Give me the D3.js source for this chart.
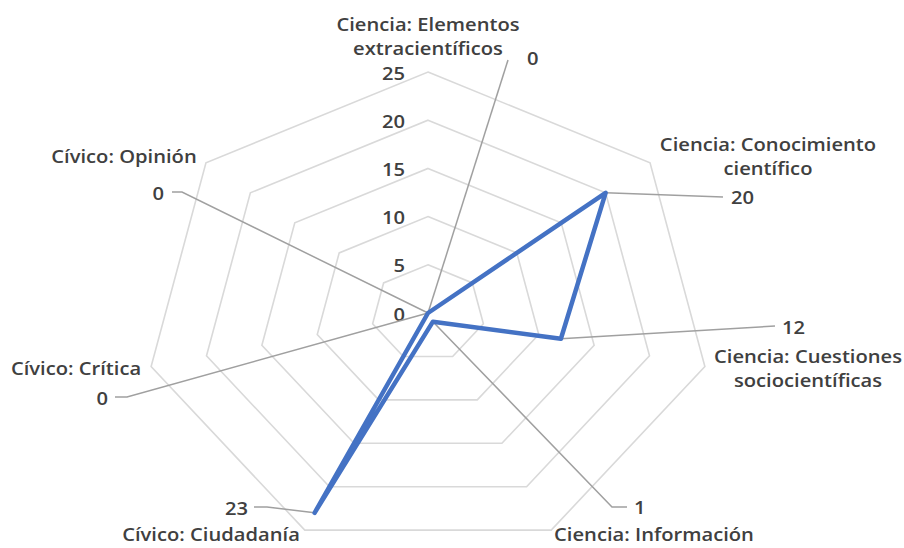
<!DOCTYPE html>
<html><head><meta charset="utf-8">
<script src="https://cdn.jsdelivr.net/npm/d3@7"></script>
<style>
html,body{margin:0;padding:0;background:#fff;}
svg{display:block;}
text{font-family:"Open Sans",sans-serif;font-weight:600;fill:#404040;}
</style></head>
<body>
<svg id="chart" width="904" height="548"></svg>
<script>
const categories = [
  "Ciencia: Elementos extracientíficos",
  "Ciencia: Conocimiento científico",
  "Ciencia: Cuestiones sociocientíficas",
  "Ciencia: Información",
  "Cívico: Ciudadanía",
  "Cívico: Crítica",
  "Cívico: Opinión"
];
const values = [0, 20, 12, 1, 23, 0, 0];
const tickValues = [0, 5, 10, 15, 20, 25];

// layout (not data)
const cx = 428, cy = 313, RX = 284, RY = 241;
const SX = 1.12;           // horizontal stretch of the text, as in the reference
const FS = "18px";
const catLabelLayout = [
  {x: 428, y: 31, lines: ["Ciencia: Elementos", "extracientíficos"]},
  {x: 768, y: 151, lines: ["Ciencia: Conocimiento", "científico"]},
  {x: 808, y: 363, lines: ["Ciencia: Cuestiones", "sociocientíficas"]},
  {x: 654, y: 541, lines: ["Ciencia: Información"]},
  {x: 211, y: 541, lines: ["Cívico: Ciudadanía"]},
  {x: 76, y: 375, lines: ["Cívico: Crítica"]},
  {x: 124, y: 163, lines: ["Cívico: Opinión"]}
];
const dataLabelLayout = [
  {ex: 508, ey: 60, hx: 508, tx: 527, ty: 58, anchor: "start"},
  {ex: 723, ey: 197, hx: 723, tx: 731, ty: 197, anchor: "start"},
  {ex: 775, ey: 326, hx: 775, tx: 782, ty: 327, anchor: "start"},
  {ex: 612, ey: 507, hx: 627, tx: 634, ty: 507, anchor: "start"},
  {ex: 267, ey: 507, hx: 254, tx: 248, ty: 508, anchor: "end"},
  {ex: 127, ey: 397, hx: 115, tx: 108, ty: 398, anchor: "end"},
  {ex: 182, ey: 192, hx: 172, tx: 164, ty: 193, anchor: "end"}
];

const svg = d3.select("#chart");
const n = categories.length;
const angle = d3.scaleLinear().domain([0, n]).range([0, 2 * Math.PI]);
const r = d3.scaleLinear().domain([0, 25]).range([0, 1]);
const px = (i, v) => cx + r(v) * RX * Math.sin(angle(i));
const py = (i, v) => cy - r(v) * RY * Math.cos(angle(i));

// grid
const gridG = svg.append("g");
tickValues.filter(t => t > 0).forEach(t => {
  const pts = d3.range(n).map(i => [px(i, t), py(i, t)]);
  gridG.append("path")
    .attr("d", d3.line()(pts) + "Z")
    .attr("fill", "none")
    .attr("stroke", "#d9d9d9")
    .attr("stroke-width", 1.6);
});

function stretchedText(sel) {
  sel.attr("transform", d => `translate(${d.x},${d.y}) scale(${SX},1)`);
}

// tick labels
svg.append("g").selectAll("g").data(tickValues.map(t => ({t, x: cx - 23, y: py(0, t) + 1})))
  .join("g").call(stretchedText)
  .append("text")
  .attr("text-anchor", "end")
  .attr("dominant-baseline", "central")
  .style("font-size", FS)
  .text(d => d.t);

// leader lines
svg.append("g").selectAll("path").data(values).join("path")
  .attr("d", (d, i) => {
    const L = dataLabelLayout[i];
    return `M${px(i, d)},${py(i, d)}L${L.ex},${L.ey}L${L.hx},${L.ey}`;
  })
  .attr("fill", "none")
  .attr("stroke", "#a0a0a0")
  .attr("stroke-width", 1.5);

// series line
const linePts = values.map((v, i) => [px(i, v), py(i, v)]);
svg.append("path")
  .attr("d", d3.line()(linePts) + "Z")
  .attr("fill", "none")
  .attr("stroke", "#4472C4")
  .attr("stroke-width", 4.5)
  .attr("stroke-linejoin", "round");

// data labels
svg.append("g").selectAll("g").data(values.map((v, i) => ({v, x: dataLabelLayout[i].tx, y: dataLabelLayout[i].ty, anchor: dataLabelLayout[i].anchor})))
  .join("g").call(stretchedText)
  .append("text")
  .attr("text-anchor", d => d.anchor)
  .attr("dominant-baseline", "central")
  .style("font-size", FS)
  .text(d => d.v);

// category labels
const catG = svg.append("g").selectAll("g").data(categories.map((c, i) => ({c, ...catLabelLayout[i]})))
  .join("g").call(stretchedText)
  .append("text")
  .attr("text-anchor", "middle")
  .style("font-size", FS);
catG.selectAll("tspan").data(d => d.lines).join("tspan")
  .attr("x", 0)
  .attr("dy", (t, j) => j === 0 ? 0 : 24)
  .text(t => t);
</script>
</body></html>
